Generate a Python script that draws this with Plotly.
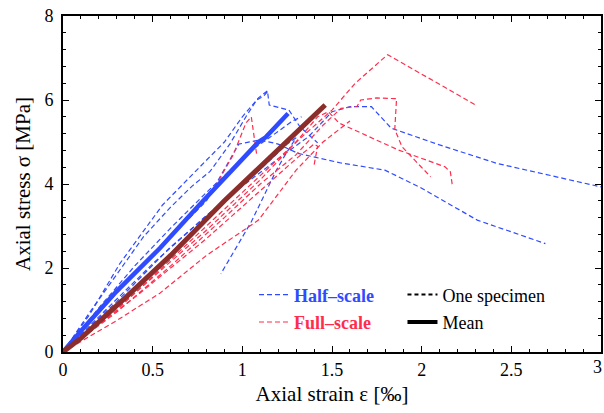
import plotly.graph_objects as go

# Half-scale specimens: strain [‰], stress [MPa]
half_1_x = [0, 0.2, 0.5, 0.8, 1.0, 1.2, 1.37, 1.5, 1.6, 1.72, 1.83, 2.1, 2.42, 3.0]
half_1_y = [0, 0.85, 2.1, 3.25, 3.95, 4.6, 5.13, 5.72, 5.84, 5.84, 5.33, 4.93, 4.49, 3.93]
half_2_x = [0, 0.25, 0.5, 0.8, 0.98, 1.1, 1.2, 1.31, 1.55, 1.795, 2.0, 2.31, 2.69]
half_2_y = [0, 1.2, 2.3, 3.6, 4.95, 5.05, 4.95, 4.73, 4.5, 4.33, 3.9, 3.14, 2.58]
half_3_x = [0, 0.15, 0.316, 0.555, 0.75, 0.9, 1.0, 1.09, 1.14, 1.15, 1.26, 1.32, 1.42]
half_3_y = [0, 0.9, 2.1, 3.5, 4.35, 5.0, 5.6, 6.05, 6.22, 5.88, 5.76, 5.37, 4.98]
half_4_x = [0, 0.3, 0.6, 0.9, 1.1, 1.25, 1.3, 1.24, 1.19, 1.05, 0.88]
half_4_y = [0, 1.2, 2.5, 3.62, 4.35, 4.95, 5.1, 4.7, 4.33, 3.1, 1.86]
half_5_x = [0, 0.15, 0.3, 0.45, 0.6, 0.72, 0.82, 0.93, 1.02, 1.08, 1.12, 1.14]
half_5_y = [0, 0.95, 1.85, 2.75, 3.45, 3.95, 4.3, 4.95, 5.6, 6.0, 6.1, 6.2]
half_6_x = [0, 0.2, 0.4, 0.6, 0.8, 0.95, 1.05, 1.15, 1.28, 1.33]
half_6_y = [0, 1.05, 2.05, 2.95, 3.8, 4.4, 4.8, 5.1, 5.5, 5.6]

# Full-scale specimens
full_1_x = [0, 0.3, 0.6, 0.9, 1.1, 1.3, 1.5, 1.63, 1.81, 2.09, 2.31]
full_1_y = [0, 1.0, 2.2, 3.4, 4.2, 5.0, 5.76, 6.4, 7.08, 6.4, 5.86]
full_2_x = [0, 0.3, 0.6, 0.9, 1.1, 1.3, 1.45, 1.55, 1.64, 1.66, 1.75, 1.86, 1.85, 1.89, 2.05]
full_2_y = [0, 0.95, 2.05, 3.2, 4.0, 4.7, 5.4, 5.8, 5.85, 6.0, 6.05, 6.03, 5.3, 4.89, 4.17]
full_3_x = [0, 0.4, 0.8, 1.1, 1.3, 1.42, 1.48, 1.54, 1.87, 2.13, 2.16, 2.17, 2.18]
full_3_y = [0, 1.4, 2.9, 4.1, 5.0, 5.6, 5.72, 5.45, 4.81, 4.41, 4.29, 4.0, 3.94]
full_4_x = [0, 0.3, 0.6, 0.85, 0.95, 1.02, 1.05, 1.06, 1.08]
full_4_y = [0, 1.4, 2.75, 3.95, 4.7, 5.45, 5.6, 5.3, 4.7]
full_5_x = [0, 0.4, 0.8, 1.1, 1.3, 1.4, 1.42, 1.4]
full_5_y = [0, 1.3, 2.7, 3.85, 4.6, 4.95, 4.9, 4.45]
full_6_x = [0, 0.3, 0.54, 0.8, 1.09, 1.3, 1.45, 1.6]
full_6_y = [0, 0.75, 1.4, 2.3, 3.14, 4.33, 5.0, 5.5]

# Mean curves
half_mean_x = [0, 0.1, 0.3, 0.54, 0.76, 0.95, 1.09, 1.13, 1.255]
half_mean_y = [0, 0.5, 1.45, 2.47, 3.5, 4.38, 5.0, 5.11, 5.68]
full_mean_x = [0, 0.1, 0.35, 0.6, 0.9, 1.2, 1.462]
full_mean_y = [0, 0.33, 1.3, 2.3, 3.6, 4.82, 5.88]

x_ticks = [0, 0.5, 1, 1.5, 2, 2.5]
x_tick_labels = ["0", "0.5", "1", "1.5", "2", "2.5"]
x_edge_tick = 3
x_edge_label = "3"
y_ticks = [0, 2, 4, 6, 8]
y_tick_labels = ["0", "2", "4", "6", "8"]

BLUE = "#2f4bff"
RED = "#ff2d4d"
BROWN = "#8b2e2b"
FONT = "Liberation Serif, Times New Roman, serif"

half_specimens = [(half_1_x, half_1_y), (half_2_x, half_2_y), (half_3_x, half_3_y),
                  (half_4_x, half_4_y), (half_5_x, half_5_y), (half_6_x, half_6_y)]
full_specimens = [(full_1_x, full_1_y), (full_2_x, full_2_y), (full_3_x, full_3_y),
                  (full_4_x, full_4_y), (full_5_x, full_5_y), (full_6_x, full_6_y)]

fig = go.Figure()
dash = "5px,3px"

for xs, ys in half_specimens:
    fig.add_trace(go.Scatter(x=xs, y=ys, mode="lines", showlegend=False,
                             line=dict(color=BLUE, width=1.2, dash=dash)))
for xs, ys in full_specimens:
    fig.add_trace(go.Scatter(x=xs, y=ys, mode="lines", showlegend=False,
                             line=dict(color=RED, width=1.2, dash=dash)))

fig.add_trace(go.Scatter(x=half_mean_x, y=half_mean_y, mode="lines", showlegend=False,
                         line=dict(color=BLUE, width=4.5)))
fig.add_trace(go.Scatter(x=full_mean_x, y=full_mean_y, mode="lines", showlegend=False,
                         line=dict(color=BROWN, width=5)))

# Legend entries (each in its own group so the row gap can be tuned)
fig.add_trace(go.Scatter(x=[None], y=[None], mode="lines", legend="legend", legendgroup="h",
                         name=f"<b><span style='color:{BLUE}'>Half–scale</span></b>",
                         line=dict(color=BLUE, width=1.2, dash=dash)))
fig.add_trace(go.Scatter(x=[None], y=[None], mode="lines", legend="legend", legendgroup="f",
                         name=f"<b><span style='color:{RED}'>Full–scale</span></b>",
                         line=dict(color=RED, width=1.2, dash=dash)))
fig.add_trace(go.Scatter(x=[None], y=[None], mode="lines", legend="legend2", legendgroup="o",
                         name="One specimen",
                         line=dict(color="black", width=2, dash="4px,3px")))
fig.add_trace(go.Scatter(x=[None], y=[None], mode="lines", legend="legend2", legendgroup="m",
                         name="Mean",
                         line=dict(color="black", width=4)))

axis_common = dict(
    showline=True, linecolor="black", linewidth=2, mirror="allticks",
    ticks="inside", ticklen=6, tickwidth=1.2, tickcolor="black",
    showgrid=False, zeroline=False,
    tickfont=dict(family=FONT, size=18, color="black"),
)

fig.update_xaxes(range=[0, 3], tickvals=x_ticks + [x_edge_tick], ticktext=x_tick_labels + [""],
                 minor=dict(dtick=0.1, ticks="inside", ticklen=3, tickcolor="black"),
                 title=dict(text="Axial strain ε [‰]", font=dict(family=FONT, size=21, color="black"),
                            standoff=8),
                 **axis_common)
fig.update_yaxes(range=[0, 8], tickvals=y_ticks, ticktext=y_tick_labels,
                 minor=dict(dtick=0.4, ticks="inside", ticklen=3, tickcolor="black"),
                 ticklabelstandoff=4,
                 title=dict(text="Axial stress σ [MPa]", font=dict(family=FONT, size=21, color="black"),
                            standoff=8),
                 **axis_common)

# Last x tick label sits against the right edge of the page
fig.add_annotation(x=x_edge_tick, y=0, xref="x", yref="paper", text=x_edge_label,
                   showarrow=False, xanchor="right", yanchor="top", yshift=-3, xshift=3,
                   font=dict(family=FONT, size=18, color="black"))

legend_font = dict(family=FONT, size=18, color="black")
fig.update_layout(
    width=604, height=413,
    margin=dict(l=63, r=1, t=16, b=61),
    plot_bgcolor="white", paper_bgcolor="white",
    font=dict(family=FONT, color="black"),
    legend=dict(x=0.355, y=0.225, xanchor="left", yanchor="top", bgcolor="rgba(0,0,0,0)",
                font=legend_font, tracegroupgap=1),
    legend2=dict(x=0.631, y=0.225, xanchor="left", yanchor="top", bgcolor="rgba(0,0,0,0)",
                 font=legend_font, tracegroupgap=1),
)

fig.write_html("out.html")
